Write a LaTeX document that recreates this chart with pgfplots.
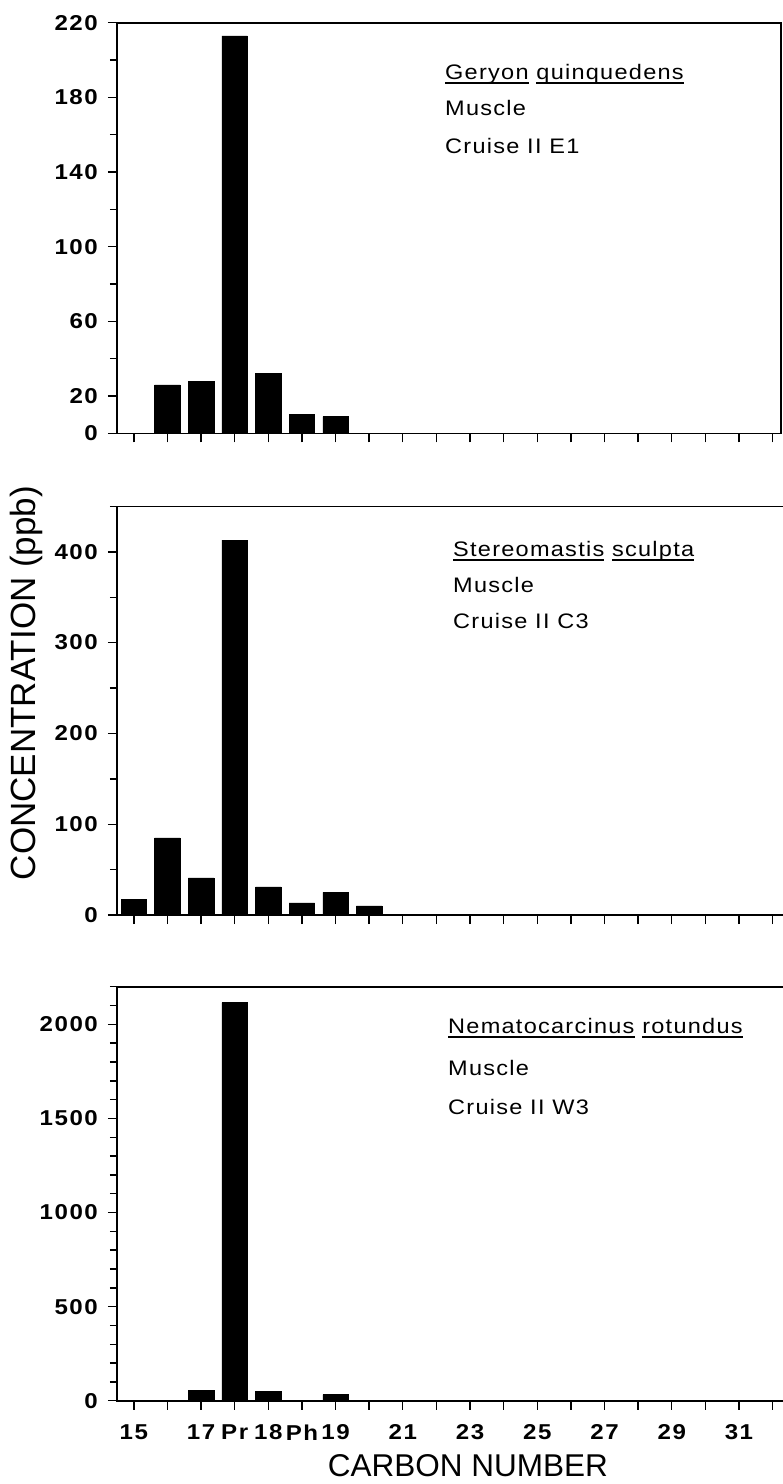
\documentclass[border=0pt]{standalone}
\usepackage{fontspec}
\setmainfont{Liberation Sans}
\newfontfamily\annfont[FakeStretch=1.12,LetterSpace=6]{Liberation Sans}
\newfontfamily\tickfont[FakeStretch=1.12,LetterSpace=7,BoldFeatures={FakeStretch=1.12,LetterSpace=7}]{Liberation Sans}
\usepackage{pgfplots}
\pgfplotsset{compat=1.18}
\newcommand\ul[1]{\setbox0\hbox{#1}\rlap{\rule[-4.5pt]{\wd0}{1.3pt}}\box0\relax}
\pgfplotsset{
  panel/.style={
    scale only axis,
    xmin=-0.5, ymin=0,
    axis line style={line width=1.6pt},
    ybar, bar width=0.76, bar shift=0pt,
    xtick={0,...,19}, xticklabels={},
    tick pos=left, tick align=outside,
    major tick length=9pt, minor tick length=7pt,
    every tick/.style={line width=1.4pt, black},
    every minor tick/.style={line width=1.4pt, black},
    /pgf/number format/assume math mode=true,
    /pgf/number format/1000 sep={},
    yticklabel style={font=\tickfont\bfseries\fontsize{21.5}{21.5}\selectfont, inner sep=0pt, xshift=-10pt},
    xticklabel style={font=\tickfont\bfseries\fontsize{21.5}{21.5}\selectfont, inner sep=0pt, yshift=-15pt},
    anchor=south west,
  },
  barstyle/.style={fill=black, draw=black, line width=0.5pt},
}
\begin{document}
\begin{tikzpicture}[x=1pt,y=1pt]
% panel 1
\begin{axis}[panel, at={(117pt,-433.3pt)}, width=664pt, height=410.6pt, xmax=19.25, ymax=220,
  ytick={0,20,60,100,140,180,220}, minor ytick={40,80,120,160,200}]
\addplot[barstyle] coordinates {(1,26) (2,28) (3,213) (4,32) (5,10) (6,9)};
\end{axis}
% panel 2
\begin{axis}[panel, at={(117pt,-915pt)}, width=675.8pt, height=408.6pt, xmax=19.6, ymax=450,
  ytick={0,100,200,300,400}, minor ytick={50,150,250,350,450}]
\addplot[barstyle] coordinates {(0,17) (1,85) (2,41) (3,413) (4,31) (5,13.5) (6,25) (7,10)};
\end{axis}
% panel 3
\begin{axis}[panel, at={(117pt,-1400.7pt)}, width=675.8pt, height=414pt, xmax=19.6, ymax=2200,
  ytick={0,500,1000,1500,2000}, minor ytick={100,200,...,2200},
  xticklabels={15,,17,Pr,18,Ph,19,,21,,23,,25,,27,,29,,31,},
  xlabel={CARBON NUMBER},
  xlabel style={font=\fontsize{31.5}{32}\selectfont, inner sep=0pt, xshift=13pt, yshift=-14pt}]
\addplot[barstyle] coordinates {(2,55) (3,2115) (4,50) (6,33)};
\end{axis}
% y label
\node[rotate=90, font=\fontsize{35}{36}\selectfont, inner sep=0pt] at (26pt,-683pt) {CONCENTRATION (ppb)};
% annotations
\begin{scope}[every node/.style={anchor=base west, inner sep=0pt, font=\annfont\fontsize{21}{21}\selectfont}]
\node at (445pt,-79pt) {\ul{Geryon} \ul{quinquedens}};
\node at (445pt,-115pt) {Muscle};
\node at (445pt,-153pt) {Cruise II E1};
\node at (453pt,-556pt) {\ul{Stereomastis} \ul{sculpta}};
\node at (453pt,-592pt) {Muscle};
\node at (453pt,-628pt) {Cruise II C3};
\node at (448pt,-1033pt) {\ul{Nematocarcinus} \ul{rotundus}};
\node at (448pt,-1075pt) {Muscle};
\node at (448pt,-1114pt) {Cruise II W3};
\end{scope}
\pgfresetboundingbox
\useasboundingbox (0pt,0pt) rectangle (783pt,-1484pt);
\end{tikzpicture}
\end{document}
